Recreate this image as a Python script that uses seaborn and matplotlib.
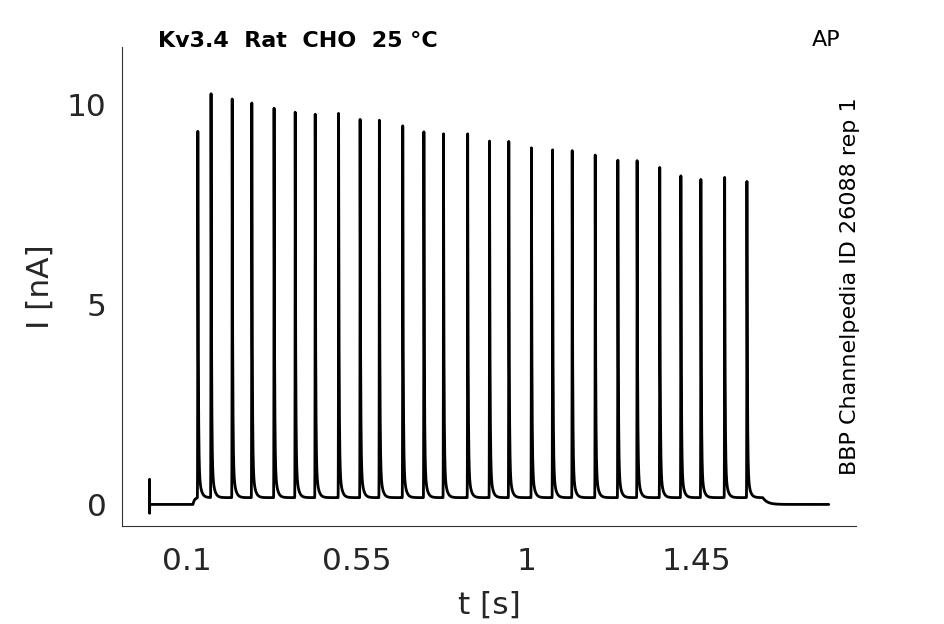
import numpy as np
import pandas as pd
import seaborn as sns
import matplotlib
matplotlib.use("Agg")
import matplotlib.pyplot as plt

# spike times [s] and peak currents [nA]
spike_times = [0.128, 0.163, 0.219, 0.271, 0.330, 0.386, 0.439, 0.501, 0.558,
               0.609, 0.671, 0.727, 0.779, 0.843, 0.901, 0.952, 1.012, 1.068,
               1.120, 1.181, 1.241, 1.292, 1.352, 1.408, 1.461, 1.524, 1.583]
spike_peaks = [9.33, 10.26, 10.13, 10.03, 9.90, 9.80, 9.75, 9.77, 9.62,
               9.60, 9.46, 9.31, 9.26, 9.26, 9.08, 9.07, 8.91, 8.86,
               8.84, 8.73, 8.60, 8.59, 8.42, 8.21, 8.12, 8.17, 8.07]
trough_level = 0.17      # current between spikes [nA]
stim_window = [0.115, 1.625]
artifact = [0.62, -0.22]  # capacitive transient at t=0
t_end = 1.8

x_ticks = [0.1, 0.55, 1, 1.45]
x_ticklabels = ["0.1", "0.55", "1", "1.45"]
y_ticks = [0, 5, 10]

# build the trace
t = np.arange(0, t_end, 0.0001)
cur = trough_level * (1 - np.exp(-np.clip(t - stim_window[0], 0, None) / 0.004)) * (t >= stim_window[0])
after = t > stim_window[1]
cur[after] = trough_level * np.exp(-(t[after] - stim_window[1]) / 0.012)
for tp, pk in zip(spike_times, spike_peaks):
    amp = pk - trough_level
    rise = (t >= tp - 0.0015) & (t < tp)
    cur[rise] += amp * ((t[rise] - (tp - 0.0015)) / 0.0015) ** 3
    dec = t >= tp
    dt = t[dec] - tp
    cur[dec] += amp * (0.89 * np.exp(-dt / 0.0012) + 0.11 * np.exp(-dt / 0.0055))

df = pd.DataFrame({"t": t, "I": cur})
df_art = pd.DataFrame({"t": [0, 0, 0, 0.0005], "I": [0, artifact[0], artifact[1], 0]})

sns.set_style("white")
plt.rcParams["font.family"] = ["DejaVu Sans"]

fig = plt.figure(figsize=(9.45, 6.24), dpi=100)
ax = fig.add_axes([0.1291, 0.157, 0.7767, 0.7677])

sns.lineplot(data=df, x="t", y="I", color="black", linewidth=2.0,
             estimator=None, errorbar=None, sort=False, ax=ax)
sns.lineplot(data=df_art, x="t", y="I", color="black", linewidth=2.0,
             estimator=None, errorbar=None, sort=False, ax=ax)

ax.set_xlim(-0.073, 1.872)
ax.set_ylim(-0.54, 11.43)
ax.set_xticks(x_ticks)
ax.set_xticklabels(x_ticklabels)
ax.set_yticks(y_ticks)
ax.tick_params(direction="in", length=5, width=0.8, color="#333333",
               labelsize=22.5, labelcolor="#262626")
ax.tick_params(axis="x", pad=15)
ax.tick_params(axis="y", pad=11)
for s in ["top", "right"]:
    ax.spines[s].set_visible(False)
for s in ["left", "bottom"]:
    ax.spines[s].set_color("#333333")
    ax.spines[s].set_linewidth(0.8)

ax.set_xlabel("t [s]", fontsize=22.5, color="#262626", labelpad=11)
ax.set_ylabel("I [nA]", fontsize=22.5, color="#262626", labelpad=9)

fig.text(158 / 945, 1 - 47 / 624, "Kv3.4  Rat  CHO  25 °C", fontsize=16,
         fontweight="bold", color="black", ha="left", va="baseline")
fig.text(826 / 945, 1 - 46 / 624, "AP", fontsize=16, color="black",
         ha="center", va="baseline")
fig.text(850 / 945, 1 - 286 / 624, "BBP Channelpedia ID 26088 rep 1", fontsize=16,
         color="black", rotation=90, ha="center", va="center")

fig.savefig("out.png", dpi=100)
